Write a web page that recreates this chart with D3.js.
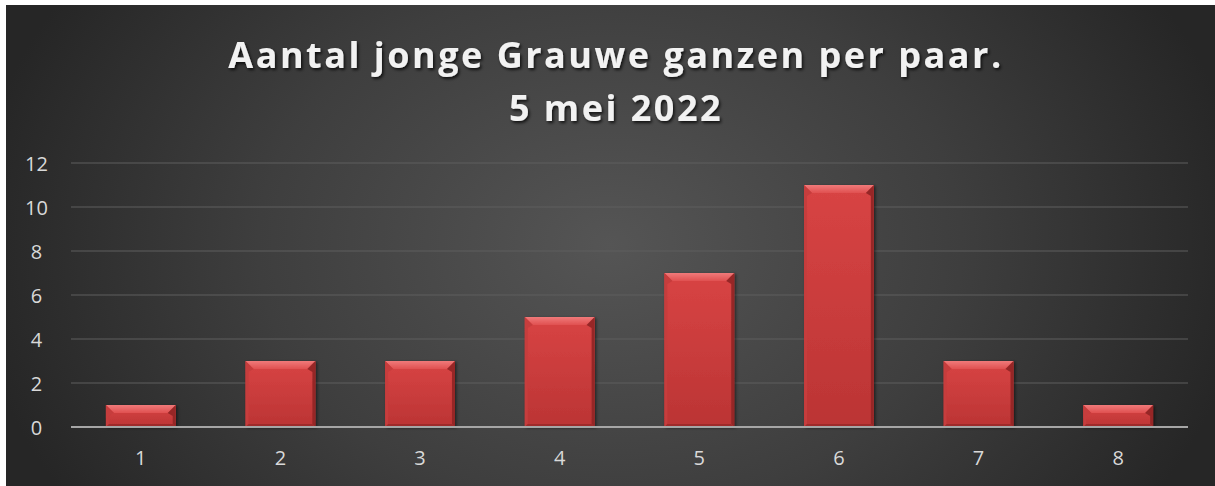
<!DOCTYPE html>
<html>
<head>
<meta charset="utf-8">
<script src="https://cdn.jsdelivr.net/npm/d3@7"></script>
<style>
  html, body { margin: 0; padding: 0; background: #ffffff; }
  svg { display: block; }
</style>
</head>
<body>
<div id="chart"></div>
<script>
// Aantal jongen per paar (Grauwe gans), telling 5 mei 2022
const categories = ["1", "2", "3", "4", "5", "6", "7", "8"];
const values = [1, 3, 3, 5, 7, 11, 3, 1];
const yTicks = [0, 2, 4, 6, 8, 10, 12];
const titleLines = ["Aantal jonge Grauwe ganzen per paar.", "5 mei 2022"];

const W = 1215, H = 486;
const svg = d3.select("#chart").append("svg").attr("width", W).attr("height", H);
const defs = svg.append("defs");

// dark radial backdrop
const bg = defs.append("radialGradient").attr("id", "bg")
  .attr("gradientUnits", "userSpaceOnUse")
  .attr("cx", 610).attr("cy", 245).attr("r", 640)
  .attr("gradientTransform", "translate(610,245) scale(1,0.75) translate(-610,-245)");
bg.append("stop").attr("offset", "0%").attr("stop-color", "#555555");
bg.append("stop").attr("offset", "55%").attr("stop-color", "#3e3e3e");
bg.append("stop").attr("offset", "100%").attr("stop-color", "#262626");

const barGrad = defs.append("linearGradient").attr("id", "barFill")
  .attr("x1", 0).attr("y1", 0).attr("x2", 0).attr("y2", 1);
barGrad.append("stop").attr("offset", "0%").attr("stop-color", "#d84444");
barGrad.append("stop").attr("offset", "100%").attr("stop-color", "#bb3434");

const bevelTop = defs.append("linearGradient").attr("id", "bevelTop")
  .attr("x1", 0).attr("y1", 0).attr("x2", 0).attr("y2", 1);
bevelTop.append("stop").attr("offset", "0%").attr("stop-color", "#f07a7a");
bevelTop.append("stop").attr("offset", "100%").attr("stop-color", "#e05050");

const shadow = defs.append("filter").attr("id", "barShadow")
  .attr("x", "-20%").attr("y", "-20%").attr("width", "140%").attr("height", "140%");
shadow.append("feDropShadow").attr("dx", 1.5).attr("dy", 1).attr("stdDeviation", 1.5)
  .attr("flood-color", "#000").attr("flood-opacity", 0.5);

const titleShadow = defs.append("filter").attr("id", "titleShadow")
  .attr("x", "-10%").attr("y", "-30%").attr("width", "120%").attr("height", "160%");
titleShadow.append("feDropShadow").attr("dx", 1.5).attr("dy", 2).attr("stdDeviation", 1.5)
  .attr("flood-color", "#000").attr("flood-opacity", 0.75);

svg.append("rect").attr("x", 6).attr("y", 5).attr("width", W - 6).attr("height", H - 5)
  .attr("fill", "url(#bg)");

// title
const title = svg.append("g").attr("filter", "url(#titleShadow)");
title.selectAll("text").data(titleLines).join("text")
  .attr("x", 616).attr("y", (d, i) => 68 + i * 53)
  .attr("text-anchor", "middle")
  .attr("font-family", "'Open Sans', sans-serif")
  .attr("font-weight", 700)
  .attr("font-size", 36)
  .attr("letter-spacing", 2.5)
  .attr("fill", "#f2f2f2")
  .text(d => d);

// scales
const plot = { left: 71, right: 1188, top: 163, bottom: 427 };
const x = d3.scaleBand().domain(categories).range([plot.left, plot.right]).paddingInner(0.5).paddingOuter(0.25);
const y = d3.scaleLinear().domain([0, 12]).range([plot.bottom, plot.top]);

// gridlines
svg.append("g").selectAll("line").data(yTicks.filter(t => t > 0)).join("line")
  .attr("x1", plot.left).attr("x2", plot.right)
  .attr("y1", d => y(d)).attr("y2", d => y(d))
  .attr("stroke", "#5e5e5e").attr("stroke-width", 1);

// y axis labels
const yAxis = svg.append("g").attr("transform", `translate(${plot.left - 34.5},0)`)
  .call(d3.axisLeft(y).tickValues(yTicks).tickSize(0).tickPadding(0));
yAxis.select(".domain").remove();
yAxis.attr("font-size", 20).attr("font-family", "'Open Sans', sans-serif");
yAxis.selectAll("text")
  .attr("text-anchor", "middle").attr("dy", "0.36em")
  .attr("fill", "#d9d9d9");

// bars with bevelled edges
const bev = 8, side = 3;
const bars = svg.append("g").selectAll("g").data(values).join("g")
  .attr("filter", "url(#barShadow)");
bars.append("rect")
  .attr("x", (d, i) => x(categories[i])).attr("width", x.bandwidth())
  .attr("y", d => y(d)).attr("height", d => y(0) - y(d))
  .attr("fill", "url(#barFill)");
// top bevel
bars.append("path")
  .attr("d", (d, i) => {
    const x0 = x(categories[i]), x1 = x0 + x.bandwidth(), t = y(d);
    const b = Math.min(bev, (y(0) - t) * 0.45);
    return `M${x0},${t}L${x1},${t}L${x1 - b},${t + b}L${x0 + b},${t + b}Z`;
  })
  .attr("fill", "url(#bevelTop)");
// side bevels
bars.append("path")
  .attr("d", (d, i) => {
    const x0 = x(categories[i]), t = y(d), bot = y(0);
    const b = Math.min(bev, (bot - t) * 0.45);
    return `M${x0},${t}L${x0 + b},${t + b}L${x0 + side},${t + b + side}L${x0 + side},${bot - side}L${x0},${bot}Z`;
  })
  .attr("fill", "#c63c3c");
bars.append("path")
  .attr("d", (d, i) => {
    const x1 = x(categories[i]) + x.bandwidth(), t = y(d), bot = y(0);
    const b = Math.min(bev, (bot - t) * 0.45);
    return `M${x1},${t}L${x1 - b},${t + b}L${x1 - side},${t + b + side}L${x1 - side},${bot - side}L${x1},${bot}Z`;
  })
  .attr("fill", "#962828");
// bottom bevel
bars.append("path")
  .attr("d", (d, i) => {
    const x0 = x(categories[i]), x1 = x0 + x.bandwidth(), bot = y(0);
    return `M${x0},${bot}L${x0 + side},${bot - side}L${x1 - side},${bot - side}L${x1},${bot}Z`;
  })
  .attr("fill", "#9e2c2c");

// baseline
svg.append("line")
  .attr("x1", plot.left).attr("x2", plot.right)
  .attr("y1", y(0)).attr("y2", y(0))
  .attr("stroke", "#a6a6a6").attr("stroke-width", 2);

// x axis labels
const xAxis = svg.append("g").attr("transform", `translate(0,${y(0) + 24})`)
  .call(d3.axisBottom(x).tickSize(0).tickPadding(0));
xAxis.select(".domain").remove();
xAxis.attr("font-size", 20).attr("font-family", "'Open Sans', sans-serif");
xAxis.selectAll("text")
  .attr("dy", "0.71em")
  .attr("fill", "#d9d9d9");
</script>
</body>
</html>
